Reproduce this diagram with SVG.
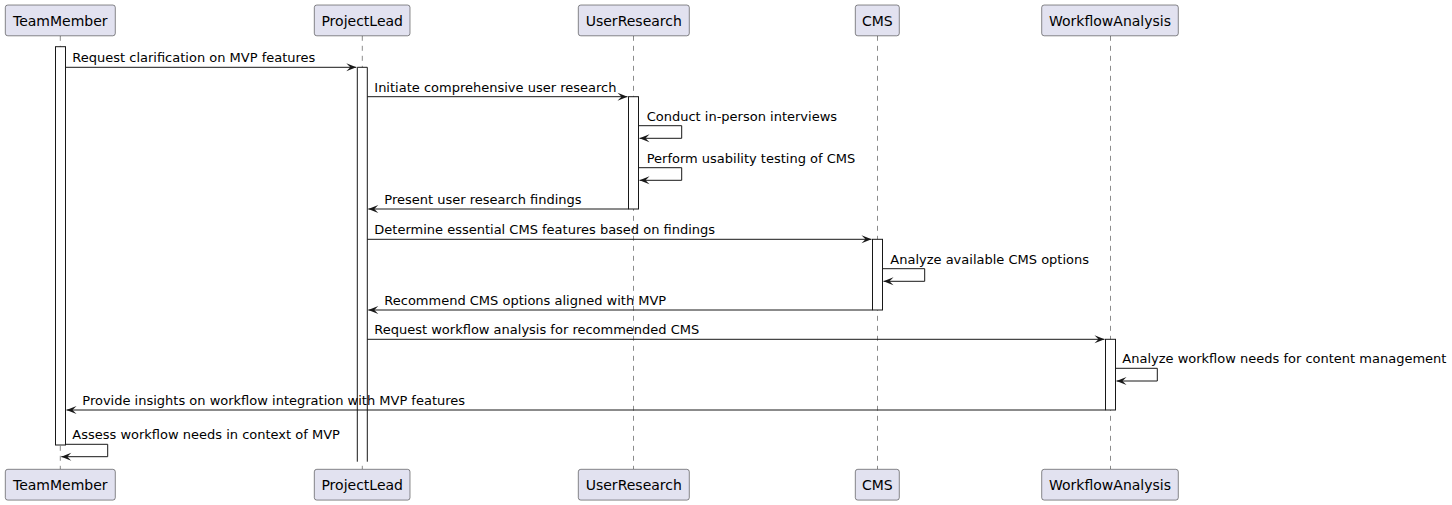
<svg xmlns="http://www.w3.org/2000/svg" width="1452" height="505" viewBox="0 0 1452 505">
<defs>
<style>
.pbox{fill:#E2E2F0;stroke:#181818;stroke-width:0.5}
.ptxt{font-family:"DejaVu Sans",sans-serif;font-size:14px;fill:#000;text-anchor:middle}
.life{stroke:#181818;stroke-width:0.5;stroke-dasharray:5,5;fill:none}
.act{fill:#FFFFFF;stroke:#181818;stroke-width:1}
.msg{stroke:#181818;stroke-width:1;fill:none}
.head{fill:#181818}
.mtxt{font-family:"DejaVu Sans",sans-serif;font-size:13px;fill:#000}
</style>
</defs>
<g id="lifelines">
<line class="life" x1="60.3" y1="35.8" x2="60.3" y2="469.3"/>
<line class="life" x1="362.3" y1="35.8" x2="362.3" y2="469.3"/>
<line class="life" x1="633.5" y1="35.8" x2="633.5" y2="469.3"/>
<line class="life" x1="877.5" y1="35.8" x2="877.5" y2="469.3"/>
<line class="life" x1="1110.5" y1="35.8" x2="1110.5" y2="469.3"/>
</g>
<g id="activations">
<rect class="act" x="55.5" y="46.7" width="10" height="398.3"/>
<rect x="357.3" y="67.3" width="10" height="394.4" fill="#FFFFFF"/>
<path class="msg" d="M357.3,461.7 V67.3 H367.3 V461.7"/>
<rect class="act" x="628.5" y="96.7" width="10" height="112.3"/>
<rect class="act" x="872.5" y="239.3" width="10" height="70.7"/>
<rect class="act" x="1105.5" y="339.3" width="10" height="70.7"/>
</g>
<g id="TeamMember">
<rect class="pbox" x="5.3" y="5" width="110" height="30.8" rx="2.5"/>
<text class="ptxt" x="60.3" y="25.8">TeamMember</text>
<rect class="pbox" x="5.3" y="469.3" width="110" height="30.8" rx="2.5"/>
<text class="ptxt" x="60.3" y="490.1">TeamMember</text>
</g>
<g id="ProjectLead">
<rect class="pbox" x="314.3" y="5" width="95.7" height="30.8" rx="2.5"/>
<text class="ptxt" x="362.2" y="25.8">ProjectLead</text>
<rect class="pbox" x="314.3" y="469.3" width="95.7" height="30.8" rx="2.5"/>
<text class="ptxt" x="362.2" y="490.1">ProjectLead</text>
</g>
<g id="UserResearch">
<rect class="pbox" x="578.3" y="5" width="111" height="30.8" rx="2.5"/>
<text class="ptxt" x="633.8" y="25.8">UserResearch</text>
<rect class="pbox" x="578.3" y="469.3" width="111" height="30.8" rx="2.5"/>
<text class="ptxt" x="633.8" y="490.1">UserResearch</text>
</g>
<g id="CMS">
<rect class="pbox" x="855.3" y="5" width="44" height="30.8" rx="2.5"/>
<text class="ptxt" x="877.3" y="25.8">CMS</text>
<rect class="pbox" x="855.3" y="469.3" width="44" height="30.8" rx="2.5"/>
<text class="ptxt" x="877.3" y="490.1">CMS</text>
</g>
<g id="WorkflowAnalysis">
<rect class="pbox" x="1041.7" y="5" width="136.6" height="30.8" rx="2.5"/>
<text class="ptxt" x="1110" y="25.8">WorkflowAnalysis</text>
<rect class="pbox" x="1041.7" y="469.3" width="136.6" height="30.8" rx="2.5"/>
<text class="ptxt" x="1110" y="490.1">WorkflowAnalysis</text>
</g>
<g id="connectors">
<line class="msg" x1="65.5" y1="67.3" x2="356.3" y2="67.3"/>
<polygon class="head" points="346.3,63.3 356.3,67.3 346.3,71.3 350.3,67.3"/>
<text class="mtxt" x="72.3" y="62.3">Request clarification on MVP features</text>

<line class="msg" x1="367.3" y1="96.7" x2="627.5" y2="96.7"/>
<polygon class="head" points="617.5,92.7 627.5,96.7 617.5,100.7 621.5,96.7"/>
<text class="mtxt" x="374.3" y="91.7">Initiate comprehensive user research</text>

<polyline class="msg" points="638.5,125.7 681.7,125.7 681.7,138.3 639.5,138.3"/>
<polygon class="head" points="649.5,134.3 639.5,138.3 649.5,142.3 645.5,138.3"/>
<text class="mtxt" x="646.7" y="120.7">Conduct in-person interviews</text>

<polyline class="msg" points="638.5,167.7 681.7,167.7 681.7,180.3 639.5,180.3"/>
<polygon class="head" points="649.5,176.3 639.5,180.3 649.5,184.3 645.5,180.3"/>
<text class="mtxt" x="646.7" y="162.7">Perform usability testing of CMS</text>

<line class="msg" x1="628.5" y1="209" x2="368.3" y2="209"/>
<polygon class="head" points="378.3,205 368.3,209 378.3,213 374.3,209"/>
<text class="mtxt" x="384.3" y="204">Present user research findings</text>

<line class="msg" x1="367.3" y1="239.3" x2="871.5" y2="239.3"/>
<polygon class="head" points="861.5,235.3 871.5,239.3 861.5,243.3 865.5,239.3"/>
<text class="mtxt" x="374.3" y="234.3">Determine essential CMS features based on findings</text>

<polyline class="msg" points="882.5,268.7 924.7,268.7 924.7,281.3 883.5,281.3"/>
<polygon class="head" points="893.5,277.3 883.5,281.3 893.5,285.3 889.5,281.3"/>
<text class="mtxt" x="890.3" y="263.7">Analyze available CMS options</text>

<line class="msg" x1="872.5" y1="310" x2="368.3" y2="310"/>
<polygon class="head" points="378.3,306 368.3,310 378.3,314 374.3,310"/>
<text class="mtxt" x="384.3" y="305">Recommend CMS options aligned with MVP</text>

<line class="msg" x1="367.3" y1="339.3" x2="1104.5" y2="339.3"/>
<polygon class="head" points="1094.5,335.3 1104.5,339.3 1094.5,343.3 1098.5,339.3"/>
<text class="mtxt" x="374.3" y="334.3">Request workflow analysis for recommended CMS</text>

<polyline class="msg" points="1115.5,368.3 1157.3,368.3 1157.3,381 1116.5,381"/>
<polygon class="head" points="1126.5,377 1116.5,381 1126.5,385 1122.5,381"/>
<text class="mtxt" x="1122.3" y="363.3">Analyze workflow needs for content management</text>

<line class="msg" x1="1105.5" y1="410" x2="66.5" y2="410"/>
<polygon class="head" points="76.5,406 66.5,410 76.5,414 72.5,410"/>
<text class="mtxt" x="82.3" y="405">Provide insights on workflow integration with MVP features</text>

<polyline class="msg" points="65.5,444.3 107.7,444.3 107.7,456.7 61.3,456.7"/>
<polygon class="head" points="71.3,452.7 61.3,456.7 71.3,460.7 67.3,456.7"/>
<text class="mtxt" x="72.3" y="439.3">Assess workflow needs in context of MVP</text>
</g>
</svg>
